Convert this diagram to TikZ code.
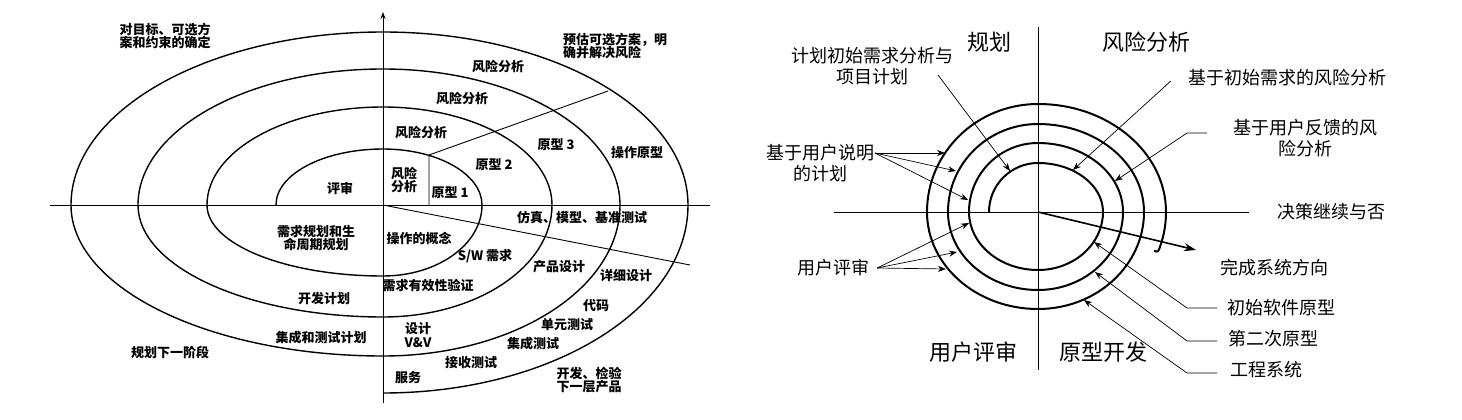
\documentclass[tikz,border=0pt]{standalone}
\usepackage{fontspec}
\newfontfamily\cjk{Noto Sans CJK SC}
\usetikzlibrary{arrows.meta}
\tikzset{
  spaxis/.style={draw=black, line width=0.9pt},
  sparc/.style={draw=black, line width=1.4pt},
  spring/.style={draw=black, line width=2pt},
  spnote/.style={font=\cjk\bfseries\fontsize{13}{13.5}\selectfont, inner sep=0pt, align=center},
  splabel/.style={font=\cjk\fontsize{18}{20.5}\selectfont, inner sep=0pt, align=center},
  spquad/.style={font=\cjk\fontsize{22}{24}\selectfont, inner sep=0pt},
  sppointer/.style={-{Stealth[length=8pt,width=6pt]}, draw=black, line width=0.7pt},
  spmain/.style={-{Stealth[length=12pt,width=8pt]}, draw=black, line width=1.6pt},
}
\begin{document}
\begin{tikzpicture}[x=1pt,y=-1pt]
  \useasboundingbox (0,0) rectangle (1462,420);

  \draw[spaxis] (50,205) -- (710,205);
  \draw[spaxis,-{Stealth[length=7pt,width=5pt]}] (383,403) -- (383,12);
  \draw[sparc] (276,205)
    arc[start angle=180,end angle=270,x radius=107,y radius=56]
    arc[start angle=270,end angle=360,x radius=99,y radius=56]
    arc[start angle=0,end angle=90,x radius=99,y radius=71]
    arc[start angle=90,end angle=180,x radius=176,y radius=71]
    arc[start angle=180,end angle=270,x radius=176,y radius=98]
    arc[start angle=270,end angle=360,x radius=169,y radius=98]
    arc[start angle=0,end angle=90,x radius=169,y radius=112]
    arc[start angle=90,end angle=180,x radius=245,y radius=112]
    arc[start angle=180,end angle=270,x radius=245,y radius=136]
    arc[start angle=270,end angle=360,x radius=237,y radius=136]
    arc[start angle=0,end angle=90,x radius=237,y radius=151]
    arc[start angle=90,end angle=180,x radius=312,y radius=151]
    arc[start angle=180,end angle=270,x radius=312,y radius=173]
    arc[start angle=270,end angle=360,x radius=305,y radius=173]
    arc[start angle=0,end angle=90,x radius=305,y radius=188];
  \draw[spaxis] (429,205) -- (429,155) -- (608,91);
  \draw[spaxis] (383,205) -- (690,265);

  \node[spnote,align=left] (lbGoal)    at (165,36)  {对目标、可选方\\案和约束的确定};
  \node[spnote,align=left,anchor=west] (lbEval) at (563,46) {预估可选方案，明\\确并解决风险};
  \node[spnote] (lbRiskA)     at (498,67)  {风险分析};
  \node[spnote] (lbRiskB)     at (462,99)  {风险分析};
  \node[spnote] (lbRiskC)     at (421,133) {风险分析};
  \node[spnote] (lbRiskD)     at (404,180) {风险\\分析};
  \node[spnote] (lbProtoA)    at (450,193) {原型 1};
  \node[spnote] (lbProtoB)    at (494,165) {原型 2};
  \node[spnote] (lbProtoC)    at (556,145) {原型 3};
  \node[spnote] (lbOpProto)   at (637,153) {操作原型};
  \node[spnote] (lbReview)    at (340,188) {评审};
  \node[spnote] (lbReqPlan)   at (316,238) {需求规划和生\\命周期规划};
  \node[spnote] (lbDevPlan)   at (324,299) {开发计划};
  \node[spnote] (lbIntPlan)   at (321,338) {集成和测试计划};
  \node[spnote] (lbNextPhase) at (170,352) {规划下一阶段};
  \node[spnote] (lbSim)       at (582,217) {仿真、模型、基准测试};
  \node[spnote] (lbConcept)   at (419,238) {操作的概念};
  \node[spnote] (lbSwReq)     at (485,256) {S/W 需求};
  \node[spnote] (lbProdDes)   at (559,267) {产品设计};
  \node[spnote] (lbDetDes)    at (626,276) {详细设计};
  \node[spnote] (lbReqVal)    at (428,286) {需求有效性验证};
  \node[spnote] (lbCode)      at (596,306) {代码};
  \node[spnote] (lbUnitTest)  at (567,325) {单元测试};
  \node[spnote] (lbDesignVV)  at (418,335) {设计\\V\&V};
  \node[spnote] (lbIntTest)   at (533,344) {集成测试};
  \node[spnote] (lbAccTest)   at (471,363) {接收测试};
  \node[spnote] (lbService)   at (408,378) {服务};
  \node[spnote] (lbDevNext)   at (589,380) {开发、检验\\下一层产品};

  \draw[spaxis] (834,212) -- (1249,212);
  \draw[spaxis] (1038,27) -- (1038,370);
  \draw[spring] (989,212)
    arc[start angle=180,end angle=270,x radius=49,y radius=49]
    arc[start angle=270,end angle=360,x radius=65,y radius=49]
    arc[start angle=0,end angle=90,x radius=65,y radius=58]
    arc[start angle=90,end angle=180,x radius=69,y radius=58]
    arc[start angle=180,end angle=270,x radius=69,y radius=69]
    arc[start angle=270,end angle=360,x radius=85,y radius=69]
    arc[start angle=0,end angle=90,x radius=85,y radius=78]
    arc[start angle=90,end angle=180,x radius=90,y radius=78]
    arc[start angle=180,end angle=270,x radius=90,y radius=88]
    arc[start angle=270,end angle=360,x radius=106,y radius=88]
    arc[start angle=0,end angle=90,x radius=106,y radius=97]
    arc[start angle=90,end angle=180,x radius=111,y radius=97]
    arc[start angle=180,end angle=270,x radius=111,y radius=108]
    arc[start angle=270,end angle=360,x radius=128,y radius=108]
    arc[start angle=0,end angle=18,x radius=128,y radius=115]
    .. controls (1158,252) .. (1154,251);
  \coordinate (origin) at (1038,212);
  \coordinate (doneTip) at (1196,250);
  \draw[spmain] (origin) -- (doneTip);

  \node[spquad] (rtPlan)     at (989,42)   {规划};
  \node[spquad] (rtRisk)     at (1146,42)  {风险分析};
  \node[spquad] (rtUserRev)  at (973,352)  {用户评审};
  \node[spquad] (rtProtoDev) at (1103,352) {原型开发};

  \node[splabel] (rtInitPlan) at (872,66)  {计划初始需求分析与\\项目计划};
  \node[splabel] (rtUserPlan) at (820,163) {基于用户说明\\的计划};
  \node[splabel] (rtReview)   at (833,268) {用户评审};
  \node[splabel] (rtRiskInit) at (1287,78) {基于初始需求的风险分析};
  \node[splabel] (rtRiskFb)   at (1305,138) {基于用户反馈的风\\险分析};
  \node[splabel] (rtDecide)   at (1331,212) {决策继续与否};
  \node[splabel] (rtDone)     at (1274,268) {完成系统方向};
  \node[splabel,anchor=west] (rtProtoA) at (1227,308) {初始软件原型};
  \node[splabel,anchor=west] (rtProtoB) at (1228,339) {第二次原型};
  \node[splabel,anchor=west] (rtEngSys) at (1230,370) {工程系统};

  \coordinate (initStart) at (938,75);
  \coordinate (userStart) at (875,153);
  \coordinate (fbStart)   at (1207,133);
  \coordinate (tipInit)   at (1010,171);
  \coordinate (tipUserA)  at (945,153);
  \coordinate (tipUserB)  at (956,171);
  \coordinate (tipUserC)  at (968,200);
  \coordinate (tipRevA)   at (946,269);
  \coordinate (tipRevB)   at (957,252);
  \coordinate (tipRevC)   at (969,223);
  \coordinate (tipRiskIn) at (1073,170);
  \coordinate (tipRiskFb) at (1115,181);
  \coordinate (tipProtoA) at (1094,242);
  \coordinate (tipProtoB) at (1095,272);
  \coordinate (tipEngSys) at (1084,300);

  \draw[sppointer] (initStart) -- (tipInit);
  \draw[sppointer] (userStart) -- (tipUserA);
  \draw[sppointer] (userStart) -- (tipUserB);
  \draw[sppointer] (userStart) -- (tipUserC);
  \draw[sppointer] ([xshift=8pt]rtReview.east) -- (tipRevA);
  \draw[sppointer] ([xshift=8pt]rtReview.east) -- (tipRevB);
  \draw[sppointer] ([xshift=8pt]rtReview.east) -- (tipRevC);
  \draw[sppointer] ([xshift=-17pt,yshift=-3pt]rtRiskInit.west) -- (tipRiskIn);
  \draw[sppointer] (fbStart) -- ++(-20,0) -- (tipRiskFb);
  \draw[sppointer] ([xshift=-10pt]rtProtoA.west) -- ++(-30,0) -- (tipProtoA);
  \draw[sppointer] ([xshift=-11pt,yshift=-2pt]rtProtoB.west) -- ++(-30,0) -- (tipProtoB);
  \draw[sppointer] ([xshift=-13pt,yshift=-3pt]rtEngSys.west) -- ++(-30,0) -- (tipEngSys);
\end{tikzpicture}
\end{document}
